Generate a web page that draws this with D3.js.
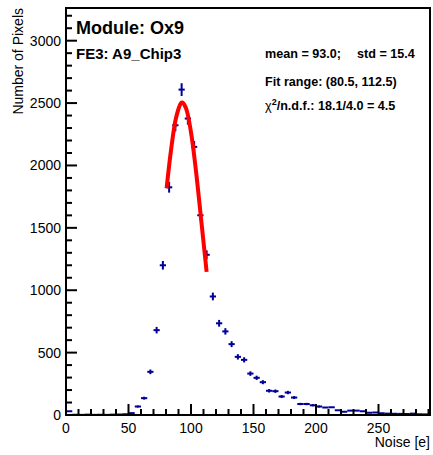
<!DOCTYPE html>
<html>
<head>
<meta charset="utf-8">
<script src="https://cdn.jsdelivr.net/npm/d3@7"></script>
<style>
  html, body { margin: 0; padding: 0; background: #fff; }
  svg { display: block; font-family: "Liberation Sans", Arial, sans-serif; }
</style>
</head>
<body>
<svg id="chart" width="433" height="455"></svg>
<script>
// ---- data ----
const binCenters = [2.5, 7.5, 12.5, 17.5, 22.5, 27.5, 32.5, 37.5, 42.5, 47.5,
  52.5, 57.5, 62.5, 67.5, 72.5, 77.5, 82.5, 87.5, 92.5, 97.5,
  102.5, 107.5, 112.5, 117.5, 122.5, 127.5, 132.5, 137.5, 142.5, 147.5,
  152.5, 157.5, 162.5, 167.5, 172.5, 177.5, 182.5, 187.5, 192.5, 197.5,
  202.5, 207.5, 212.5, 217.5, 222.5, 227.5, 232.5, 237.5, 242.5, 247.5,
  252.5, 257.5, 262.5, 267.5, 272.5, 277.5, 282.5, 287.5];
const counts = [30, 2, 1, 3, 1, 2, 1, 3, 4, 6,
  15, 68, 135, 346, 680, 1200, 1825, 2322, 2608, 2376,
  2149, 1601, 1284, 950, 735, 670, 568, 466, 442, 332,
  298, 263, 194, 191, 148, 180, 140, 88, 88, 78,
  68, 60, 62, 38, 26, 35, 35, 30, 18, 20,
  14, 11, 10, 9, 8, 11, 6, 5];
const binWidth = 5;
// fit curve points
const fitX = [80.5, 84, 88, 92, 93, 96, 100, 104, 108, 112.5];
const fitY = [1817, 2121, 2380, 2500, 2505, 2459, 2265, 1954, 1578, 1147];
const xTicks = [0, 50, 100, 150, 200, 250];
const yTicks = [0, 500, 1000, 1500, 2000, 2500, 3000];
const titleMain = "Module: Ox9";
const titleSub = "FE3: A9_Chip3";
const statsMean = "mean = 93.0;";
const statsStd = "std = 15.4";
const fitRange = "Fit range: (80.5, 112.5)";
const chiRest = "/n.d.f.: 18.1/4.0 = 4.5";
const xTitle = "Noise [e]";
const yTitle = "Number of Pixels";

// ---- layout ----
const L = 66, R = 430, T = 8, B = 415;
const svg = d3.select("#chart");
const x = d3.scaleLinear().domain([0, 291.2]).range([L, R]);
const y = d3.scaleLinear().domain([0, 3262]).range([B, T]);

// points with error bars
const pts = binCenters.map((c, i) => ({ c, v: counts[i] }));
const g = svg.append("g").attr("stroke", "#000099").attr("stroke-width", 2).attr("fill", "none");
pts.forEach(p => {
  const e = Math.sqrt(p.v);
  g.append("line").attr("x1", x(p.c - binWidth / 2)).attr("x2", x(p.c + binWidth / 2))
    .attr("y1", y(p.v)).attr("y2", y(p.v));
  if (e * (B - T) / 3262 > 1) {
    g.append("line").attr("x1", x(p.c)).attr("x2", x(p.c))
      .attr("y1", Math.min(B, y(p.v - e))).attr("y2", y(p.v + e));
  }
});

// fit curve
const fitData = fitX.map((v, i) => [v, fitY[i]]);
svg.append("path").datum(fitData)
  .attr("d", d3.line().x(d => x(d[0])).y(d => y(d[1])).curve(d3.curveCatmullRom.alpha(0.5)))
  .attr("fill", "none").attr("stroke", "#ff0000").attr("stroke-width", 4).attr("stroke-linecap", "butt");

// axes (ROOT style: ticks inside)
const xAxis = d3.axisBottom(x).tickValues(d3.range(0, 291, 10)).tickSize(0).tickFormat("");
const xg = svg.append("g");
d3.range(0, 291, 10).forEach(v => {
  const major = v % 50 === 0;
  xg.append("line").attr("x1", x(v)).attr("x2", x(v)).attr("y1", B).attr("y2", B - (major ? 11 : 6))
    .attr("stroke", "#000").attr("stroke-width", 2);
});
xTicks.forEach(v => {
  xg.append("text").attr("x", x(v)).attr("y", 433).attr("text-anchor", "middle")
    .attr("font-size", 14).text(v);
});
const yg = svg.append("g");
d3.range(0, 3262, 100).forEach(v => {
  const major = v % 500 === 0;
  yg.append("line").attr("x1", L).attr("x2", L + (major ? 11 : 6)).attr("y1", y(v)).attr("y2", y(v))
    .attr("stroke", "#000").attr("stroke-width", 2);
});
yTicks.forEach(v => {
  yg.append("text").attr("x", 61).attr("y", y(v) + 5).attr("text-anchor", "end")
    .attr("font-size", 14).text(v);
});

// frame
svg.append("rect").attr("x", L).attr("y", T).attr("width", R - L).attr("height", B - T)
  .attr("fill", "none").attr("stroke", "#000").attr("stroke-width", 2);

// titles
svg.append("text").attr("x", R).attr("y", 447).attr("text-anchor", "end").attr("font-size", 14).text(xTitle);
svg.append("text").attr("transform", "translate(23,8) rotate(-90)").attr("text-anchor", "end")
  .attr("font-size", 14).text(yTitle);

svg.append("text").attr("x", 76).attr("y", 34).attr("font-size", 18).attr("font-weight", "bold").text(titleMain);
svg.append("text").attr("x", 76).attr("y", 59).attr("font-size", 15).attr("font-weight", "bold").text(titleSub);
svg.append("text").attr("x", 265).attr("y", 58).attr("font-size", 12.6).attr("font-weight", "bold").text(statsMean);
svg.append("text").attr("x", 357).attr("y", 58).attr("font-size", 12.6).attr("font-weight", "bold").text(statsStd);
svg.append("text").attr("x", 265).attr("y", 86).attr("font-size", 12.6).attr("font-weight", "bold").text(fitRange);
const chi = svg.append("text").attr("x", 265).attr("y", 110).attr("font-size", 12.6).attr("font-weight", "bold");
chi.append("tspan").attr("font-weight", "normal").text("χ");
chi.append("tspan").attr("font-size", 9).attr("dy", -5).text("2");
chi.append("tspan").attr("dy", 5).text(chiRest);
</script>
</body>
</html>
